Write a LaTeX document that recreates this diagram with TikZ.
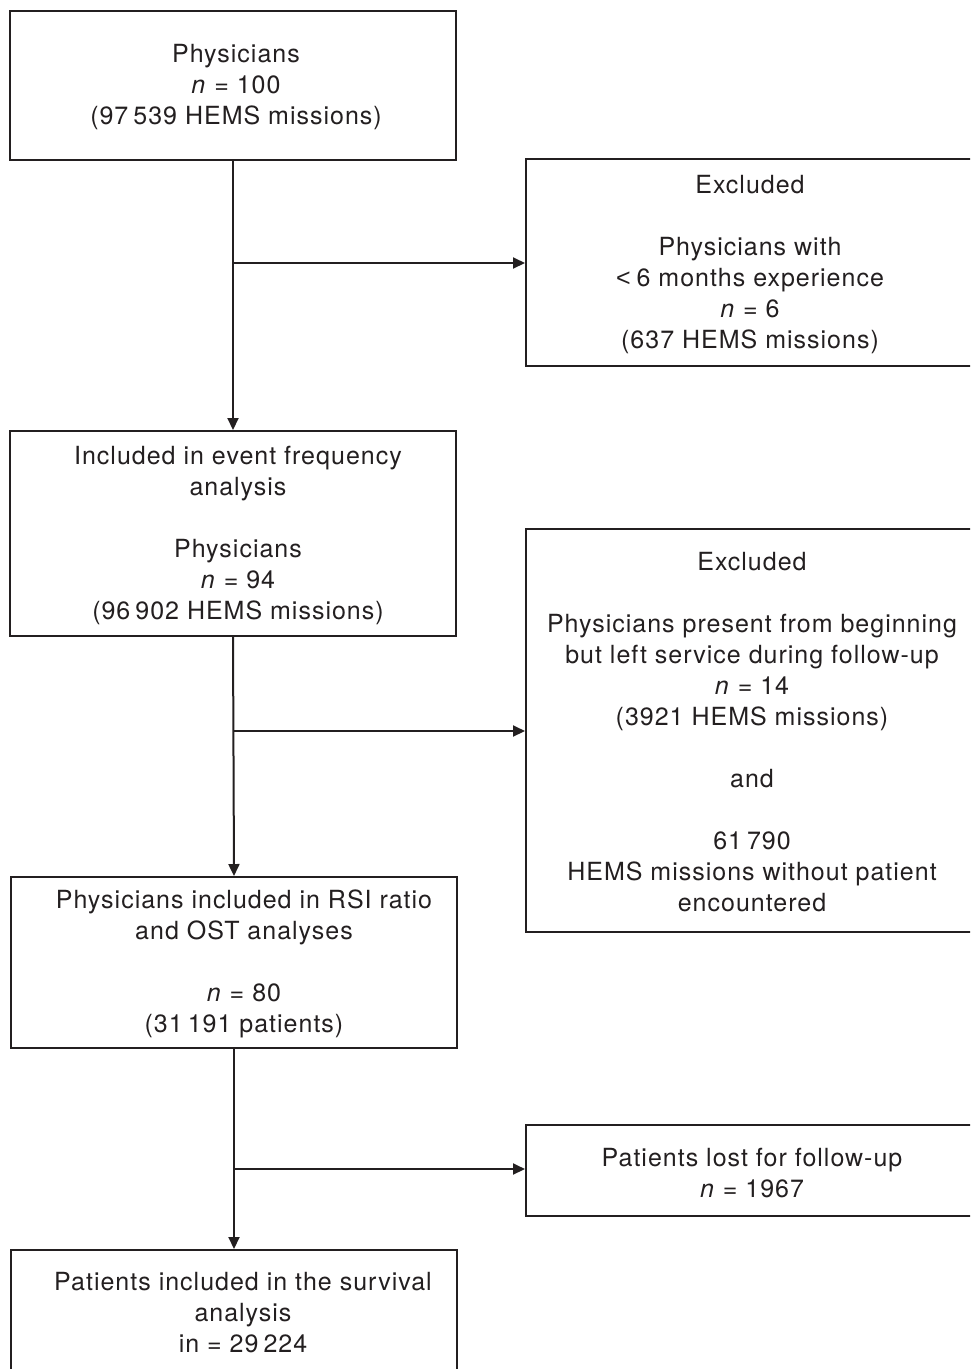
\documentclass[tikz,border=0pt]{standalone}
\usepackage{fontspec}
\setmainfont{TeX Gyre Heros}[LetterSpace=4]
\newfontfamily\ltfont{Liberation Sans}
\usetikzlibrary{arrows.meta}
\definecolor{ink}{HTML}{231F20}
\newcommand{\nsp}{\hspace{5pt}}
\begin{document}
\begin{tikzpicture}[x=1pt,y=-1pt,
  box/.style={draw=ink, line width=2pt, inner sep=0pt},
  txt/.style={align=center, text=ink, font=\fontsize{25}{31}\selectfont, inner sep=0pt},
  conn/.style={draw=ink, line width=2pt},
  arr/.style={conn, -{Triangle[length=12pt,width=11pt]}}]
\useasboundingbox (0,0) rectangle (970,1369);
\clip (0,0) rectangle (970,1369);
% boxes
\node[box, minimum width=446pt, minimum height=149pt] (b1) at (233,85.5) {};
\node[box, minimum width=448pt, minimum height=207pt] (b2) at (750,262.5) {};
\node[box, minimum width=446pt, minimum height=205pt] (b3) at (233,533.5) {};
\node[box, minimum width=448pt, minimum height=403pt] (b4) at (750,730.5) {};
\node[box, minimum width=446pt, minimum height=171pt] (b5) at (234,962.5) {};
\node[box, minimum width=448pt, minimum height=91pt] (b6) at (750,1170.5) {};
\node[box, minimum width=446pt, minimum height=126pt] (b7) at (234,1313) {};
% texts
\node[txt] (t1) at (236,87) {Physicians\\ \textit{n} = 100\\ (97\nsp539 HEMS missions)};
\node[txt] (t2) at (750,264.5) {Excluded\\[31pt] Physicians with\\ {\ltfont<}\hspace{6pt}6 months experience\\ \textit{n} = 6\\ (637 HEMS missions)};
\node[txt] (t3) at (238,535) {Included in event frequency\\ analysis\\[31pt] Physicians\\ \textit{n} = 94\\ (96\nsp902 HEMS missions)};
\node[txt] (t4) at (752,732.5) {Excluded\\[31pt] Physicians present from beginning\\ but left service during follow-up\\ \textit{n} = 14\\ (3921 HEMS missions)\\[31pt] and\\[31pt] 61\nsp790\\ HEMS missions without patient\\ encountered};
\node[txt] (t5) at (244,964) {Physicians included in RSI ratio\\ and OST analyses\\[31pt] \textit{n} = 80\\ (31\nsp191 patients)};
\node[txt] (t6) at (752,1173.5) {Patients lost for follow-up\\ \textit{n} = 1967};
\node[txt] (t7) at (243,1313) {Patients included in the survival\\ analysis\\ in = 29\nsp224};
% connectors
\coordinate (j1) at (233,263);
\coordinate (j2) at (233.5,731);
\coordinate (j3) at (234,1169);
\draw[arr] (b1.south) -- (b3.north);
\draw[arr] (j1) -- (j1 -| b2.west);
\draw[arr] (b3.south) -- (b5.north);
\draw[arr] (j2) -- (j2 -| b4.west);
\draw[arr] (b5.south) -- (b7.north);
\draw[arr] (j3) -- (j3 -| b6.west);
\end{tikzpicture}
\end{document}
